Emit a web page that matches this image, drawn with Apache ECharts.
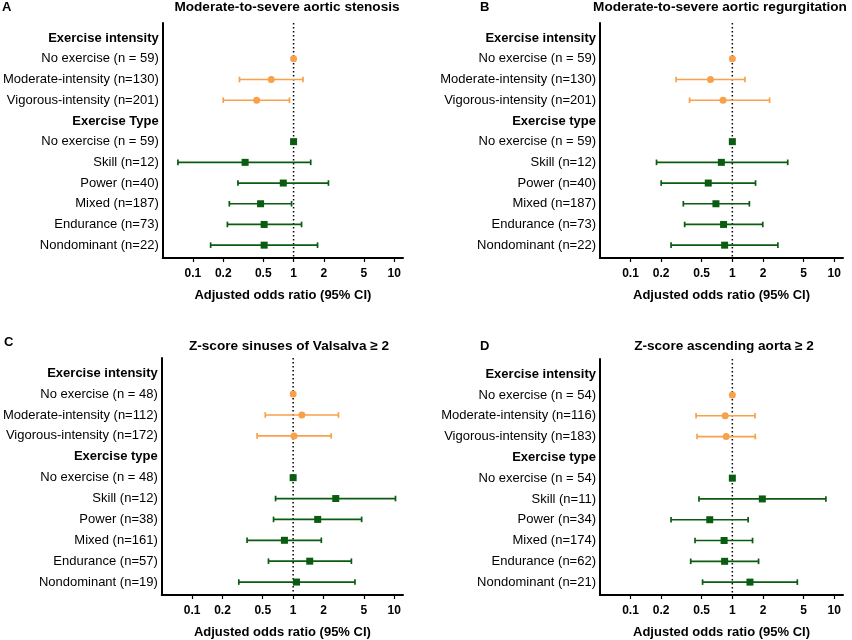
<!DOCTYPE html>
<html>
<head>
<meta charset="utf-8">
<script src="https://cdn.jsdelivr.net/npm/echarts@6/dist/echarts.min.js"></script>
<style>html,body{margin:0;padding:0;background:#fff}#c{width:852px;height:640px}</style>
</head>
<body>
<div id="c"></div>
<script>
// ---------- data ----------
const panelLetters = ['A', 'B', 'C', 'D'];
const panelTitles = [
  'Moderate-to-severe aortic stenosis',
  'Moderate-to-severe aortic regurgitation',
  'Z-score sinuses of Valsalva \u2265 2',
  'Z-score ascending aorta \u2265 2'
];
const xTickValues = [0.1, 0.2, 0.5, 1, 2, 5, 10];
const xAxisName = 'Adjusted odds ratio (95% CI)';

const labelsA = ['Exercise intensity', 'No exercise (n = 59)', 'Moderate-intensity (n=130)', 'Vigorous-intensity (n=201)',
  'Exercise Type', 'No exercise (n = 59)', 'Skill (n=12)', 'Power (n=40)', 'Mixed (n=187)', 'Endurance (n=73)', 'Nondominant (n=22)'];
const labelsB = ['Exercise intensity', 'No exercise (n = 59)', 'Moderate-intensity (n=130)', 'Vigorous-intensity (n=201)',
  'Exercise type', 'No exercise (n = 59)', 'Skill (n=12)', 'Power (n=40)', 'Mixed (n=187)', 'Endurance (n=73)', 'Nondominant (n=22)'];
const labelsC = ['Exercise intensity', 'No exercise (n = 48)', 'Moderate-intensity (n=112)', 'Vigorous-intensity (n=172)',
  'Exercise type', 'No exercise (n = 48)', 'Skill (n=12)', 'Power (n=38)', 'Mixed (n=161)', 'Endurance (n=57)', 'Nondominant (n=19)'];
const labelsD = ['Exercise intensity', 'No exercise (n = 54)', 'Moderate-intensity (n=116)', 'Vigorous-intensity (n=183)',
  'Exercise type', 'No exercise (n = 54)', 'Skill (n=11)', 'Power (n=34)', 'Mixed (n=174)', 'Endurance (n=62)', 'Nondominant (n=21)'];
const headerRows = [0, 4];
const intensityRows = [1, 2, 3];
const typeRows = [5, 6, 7, 8, 9, 10];

// Panel A
const intensityOR_A = [1, 0.60, 0.43];
const intensityLo_A = [null, 0.29, 0.20];
const intensityHi_A = [null, 1.24, 0.91];
const typeOR_A = [1, 0.33, 0.79, 0.47, 0.51, 0.51];
const typeLo_A = [null, 0.071, 0.28, 0.23, 0.22, 0.15];
const typeHi_A = [null, 1.48, 2.22, 0.955, 1.20, 1.73];
// Panel B
const intensityOR_B = [1, 0.61, 0.81];
const intensityLo_B = [null, 0.28, 0.38];
const intensityHi_B = [null, 1.33, 2.32];
const typeOR_B = [1, 0.78, 0.58, 0.69, 0.82, 0.84];
const typeLo_B = [null, 0.18, 0.20, 0.33, 0.34, 0.25];
const typeHi_B = [null, 3.5, 1.69, 1.47, 1.99, 2.8];
// Panel C
const intensityOR_C = [1, 1.22, 1.02];
const intensityLo_C = [null, 0.53, 0.44];
const intensityHi_C = [null, 2.81, 2.38];
const typeOR_C = [1, 2.64, 1.75, 0.82, 1.46, 1.08];
const typeLo_C = [null, 0.67, 0.64, 0.35, 0.57, 0.29];
const typeHi_C = [null, 10.3, 4.76, 1.90, 3.77, 4.09];
// Panel D
const intensityOR_D = [1, 0.85, 0.87];
const intensityLo_D = [null, 0.44, 0.45];
const intensityHi_D = [null, 1.67, 1.68];
const typeOR_D = [1, 1.97, 0.60, 0.83, 0.84, 1.49];
const typeLo_D = [null, 0.47, 0.25, 0.43, 0.39, 0.51];
const typeHi_D = [null, 8.3, 1.43, 1.58, 1.81, 4.35];

// ---------- layout / style ----------
const ORANGE = '#F9A14A';
const GREEN = '#0A5C10';
const FONT = 'Liberation Sans, Arial, sans-serif';
const Y_MIN = -0.73, Y_MAX = 10.62;
const grids = [
  { left: 160, top: 23, width: 243, height: 235 },
  { left: 600, top: 23, width: 243, height: 235 },
  { left: 160, top: 358, width: 243, height: 237 },
  { left: 600, top: 359, width: 243, height: 236 }
];
const letterPos = [[2, 7], [480, 7], [4, 342], [480, 346]];
const titlePos = [[287, 7], [720, 7], [289, 346], [724, 346]];

const panels = [
  { labels: labelsA, iOR: intensityOR_A, iLo: intensityLo_A, iHi: intensityHi_A, tOR: typeOR_A, tLo: typeLo_A, tHi: typeHi_A },
  { labels: labelsB, iOR: intensityOR_B, iLo: intensityLo_B, iHi: intensityHi_B, tOR: typeOR_B, tLo: typeLo_B, tHi: typeHi_B },
  { labels: labelsC, iOR: intensityOR_C, iLo: intensityLo_C, iHi: intensityHi_C, tOR: typeOR_C, tLo: typeLo_C, tHi: typeHi_C },
  { labels: labelsD, iOR: intensityOR_D, iLo: intensityLo_D, iHi: intensityHi_D, tOR: typeOR_D, tLo: typeLo_D, tHi: typeHi_D }
];

const lg = v => Math.log10(v);

function errorBarSeries(idx, rows, lo, hi, color) {
  const data = [];
  rows.forEach((r, i) => { if (lo[i] != null) data.push([lg(lo[i]), lg(hi[i]), r]); });
  return {
    type: 'custom', xAxisIndex: idx, yAxisIndex: idx, silent: true, z: 3,
    data: data,
    encode: { x: [0, 1], y: 2 },
    renderItem: function (params, api) {
      const a = api.coord([api.value(0), api.value(2)]);
      const b = api.coord([api.value(1), api.value(2)]);
      const h = 2.8;
      const st = { stroke: color, lineWidth: 1.7, fill: null };
      return {
        type: 'group', children: [
          { type: 'line', shape: { x1: a[0], y1: a[1], x2: b[0], y2: b[1] }, style: st },
          { type: 'line', shape: { x1: a[0], y1: a[1] - h, x2: a[0], y2: a[1] + h }, style: st },
          { type: 'line', shape: { x1: b[0], y1: b[1] - h, x2: b[0], y2: b[1] + h }, style: st }
        ]
      };
    }
  };
}

const xAxes = [], yAxes = [], series = [], graphics = [];
panels.forEach((p, idx) => {
  xAxes.push({
    gridIndex: idx, type: 'value', min: -1.3, max: 1.087,
    splitLine: { show: false },
    axisLine: { onZero: false, lineStyle: { color: '#000', width: 2 } },
    axisTick: { show: true, length: 4, customValues: xTickValues.map(lg), lineStyle: { color: '#000', width: 1.2 } },
    axisLabel: {
      customValues: xTickValues.map(lg), margin: 10,
      color: '#000', fontWeight: 'bold', fontSize: 12, fontFamily: FONT,
      formatter: v => { const t = xTickValues.find(x => Math.abs(lg(x) - v) < 1e-6); return t == null ? '' : String(t); }
    },
    name: xAxisName, nameLocation: 'middle', nameGap: 31,
    nameTextStyle: { color: '#000', fontWeight: 'bold', fontSize: 13, fontFamily: FONT }
  });
  yAxes.push({
    gridIndex: idx, type: 'value', inverse: true, min: Y_MIN, max: Y_MAX,
    splitLine: { show: false },
    axisLine: { show: true, onZero: false, lineStyle: { color: '#000', width: 2 } },
    axisTick: { show: false },
    axisLabel: {
      customValues: p.labels.map((_, i) => i), margin: 4,
      color: '#000', fontSize: 13, fontFamily: FONT,
      formatter: v => {
        const i = Math.round(v);
        const t = p.labels[i];
        if (t == null) return '';
        return headerRows.includes(i) ? '{b|' + t + '}' : t;
      },
      rich: { b: { fontWeight: 'bold', fontSize: 13, color: '#000', fontFamily: FONT } }
    }
  });
  // reference line at OR = 1
  series.push({
    type: 'line', xAxisIndex: idx, yAxisIndex: idx, silent: true, symbol: 'none', z: 2,
    lineStyle: { color: '#000', type: [1.5, 2.5], width: 1.5 },
    data: [[lg(1), Y_MIN], [lg(1), Y_MAX]]
  });
  series.push(errorBarSeries(idx, intensityRows, p.iLo, p.iHi, ORANGE));
  series.push(errorBarSeries(idx, typeRows, p.tLo, p.tHi, GREEN));
  series.push({
    type: 'scatter', xAxisIndex: idx, yAxisIndex: idx, symbol: 'circle', symbolSize: 7, z: 5,
    itemStyle: { color: ORANGE, opacity: 1 },
    data: intensityRows.map((r, i) => [lg(p.iOR[i]), r])
  });
  series.push({
    type: 'scatter', xAxisIndex: idx, yAxisIndex: idx, symbol: 'rect', symbolSize: 7, z: 5,
    itemStyle: { color: GREEN, opacity: 1 },
    data: typeRows.map((r, i) => [lg(p.tOR[i]), r])
  });
  graphics.push({
    type: 'text', x: letterPos[idx][0], y: letterPos[idx][1],
    style: { text: panelLetters[idx], font: 'bold 13px ' + FONT, fill: '#000', textVerticalAlign: 'middle' }
  });
  graphics.push({
    type: 'text', x: titlePos[idx][0], y: titlePos[idx][1],
    style: { text: panelTitles[idx], font: 'bold 13.6px ' + FONT, fill: '#000', textAlign: 'center', textVerticalAlign: 'middle' }
  });
});

const chart = echarts.init(document.getElementById('c'), null, { renderer: 'canvas' });
chart.setOption({
  backgroundColor: '#fff',
  animation: false,
  grid: grids.map(g => Object.assign({ containLabel: false }, g)),
  xAxis: xAxes,
  yAxis: yAxes,
  series: series,
  graphic: graphics
});
</script>
</body>
</html>
